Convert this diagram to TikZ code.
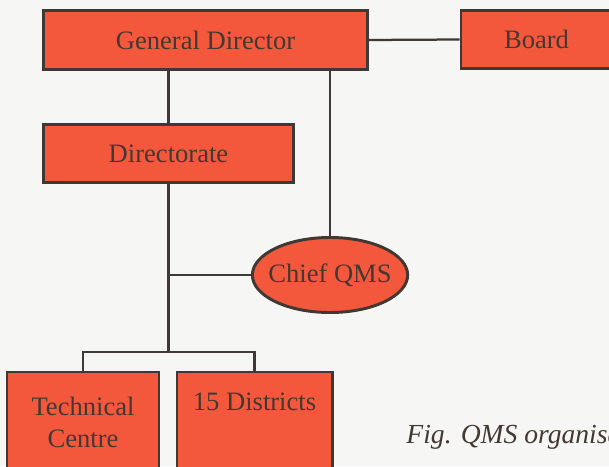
\documentclass[tikz,border=0pt]{standalone}
\usepackage{fontspec}
\setmainfont{Liberation Serif}
\usepackage{tikz}
\usetikzlibrary{shapes.geometric}
\definecolor{paper}{RGB}{246,246,244}
\definecolor{boxred}{RGB}{243,88,60}
\definecolor{ink}{RGB}{64,56,52}
\definecolor{textgray}{RGB}{68,56,50}
\begin{document}
\begin{tikzpicture}[x=0.025cm, y=-0.025cm]
	\useasboundingbox (0,0) rectangle (609,466);
	\fill[paper] (0,0) rectangle (609,466);
	\clip (0,0) rectangle (609,466);
	\begin{scope}[color=ink]
		\tikzstyle{every node}=[fill=boxred,draw=ink,line width=2.1pt,text=textgray,inner sep=0pt,align=center,font=\fontsize{18.9}{22.7}\selectfont]
		\tikzstyle{unit}=[rectangle,minimum height=1.45cm]
		\node[unit,minimum width=8.1cm,minimum height=1.475cm] at (205.5,40) (gd) {General Director};
		\node[unit,minimum width=3.775cm] at (536.5,39.5) (board) {Board};
		\node[unit,minimum width=6.225cm] at (168.5,153.7) (dir) {Directorate};
		\node[ellipse,inner xsep=-4.8pt,minimum width=3.85cm,minimum height=1.875cm] at (330,275) (qms) {Chief QMS};
		\node[unit,minimum width=3.8cm,minimum height=2.5cm] at (83,422) (tc) {Technical\\Centre};
		\node[unit,minimum width=3.875cm,minimum height=2.5cm] at (254.5,422) (dist) {15 Districts\\\strut};
		\coordinate (j) at (168.5,352);
		\draw[line width=1.6pt] (gd.east)--(board.west);
		\draw[line width=1.6pt] (dir.north |- gd.south)--(dir.north);
		\draw[line width=1.6pt] (qms.north |- gd.south)--(qms.north);
		\draw[line width=1.6pt] (dir.south)--(j);
		\draw[line width=1.6pt] (qms.west)--(qms.west -| j);
		\draw[line width=1.6pt] (tc.north)--(tc.north |- j)--(dist.north |- j)--(dist.north);
		\node[fill=none,draw=none,anchor=west,font=\fontsize{19.6}{23}\selectfont\itshape] at (405,437) (cap) {Fig. QMS organisation};
	\end{scope}
\end{tikzpicture}
\end{document}
